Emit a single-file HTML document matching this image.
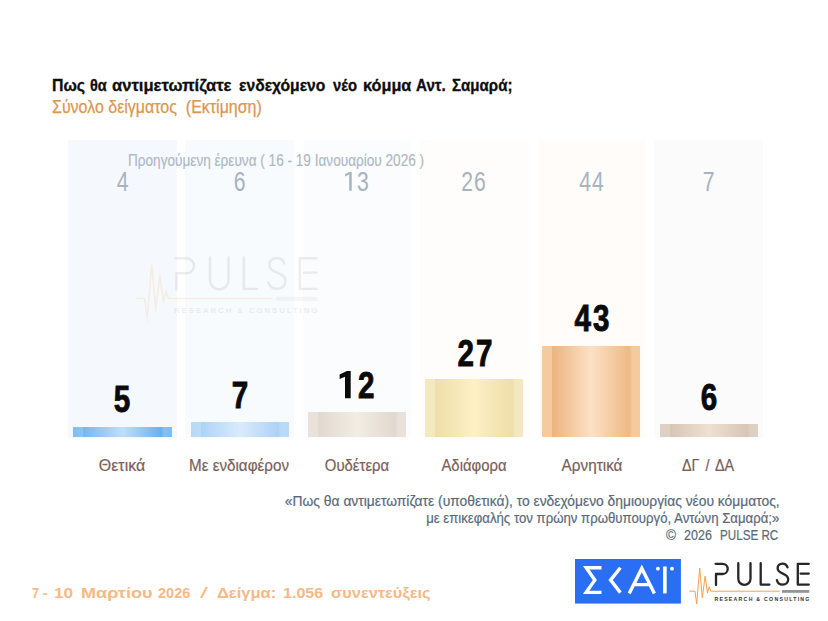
<!DOCTYPE html>
<html lang="el">
<head>
<meta charset="utf-8">
<title>Pulse</title>
<style>
html,body{margin:0;padding:0;background:#fff;}
body{width:828px;height:621px;position:relative;overflow:hidden;font-family:"Liberation Sans",sans-serif;}
.t{position:absolute;white-space:nowrap;line-height:1;transform-origin:0 0;}
.c{position:absolute;white-space:nowrap;line-height:1;text-align:center;transform-origin:50% 0;}
.r{position:absolute;white-space:nowrap;line-height:1;text-align:right;transform-origin:100% 0;}
.fn{color:#596978;-webkit-text-stroke:.2px #596978;}
.ti{top:76.5px;font-size:16.5px;font-weight:bold;color:#0d0d0d;-webkit-text-stroke:.3px #0d0d0d;}
.ft{top:585.3px;font-size:15px;font-weight:bold;color:#f6b985;}
.col{position:absolute;top:139.5px;height:298.2px;width:108.5px;}
.bar{position:absolute;width:98.4px;}
.val{font-weight:bold;font-size:37px;color:#0a0a0a;width:140px;transform:scaleX(.8);letter-spacing:2.7px;-webkit-text-stroke:.9px #0a0a0a;}
.h1{color:transparent;-webkit-text-stroke:0 transparent;}
.prev{font-size:27.2px;color:#a9b3be;width:140px;transform:scaleX(.78);letter-spacing:1.2px;}
.lab{font-size:16.5px;color:#7a5e59;-webkit-text-stroke:.2px #7a5e59;width:140px;transform:scaleX(.935);}
</style>
</head>
<body>
<!-- column backgrounds -->
<div class="col" style="left:68.0px;background:#f5f9fd"></div>
<div class="col" style="left:185.4px;background:#f8fbfe"></div>
<div class="col" style="left:302.8px;background:#fbfcfd"></div>
<div class="col" style="left:420.2px;background:#fefdfb"></div>
<div class="col" style="left:537.6px;background:#fffcf9"></div>
<div class="col" style="left:654.4px;background:#fcfbfb"></div>

<!-- bars -->
<div class="bar" style="left:73px;top:426.8px;width:99px;height:9.8px;background:linear-gradient(90deg,#82bdf0 0%,#8cc3f1 10%,#78b6ee 10.5%,#bfdffa 50%,#6cb0ec 89%,#86bff0 92%,#80bbef 100%)"></div>
<div class="bar" style="left:191px;top:422px;width:98.4px;height:14.6px;background:linear-gradient(90deg,#b9d9f7 0%,#bddbf8 10%,#aed3f6 10.5%,#d9ebfc 50%,#add2f6 89%,#bcdaf7 92%,#b9d9f7 100%)"></div>
<div class="bar" style="left:307.5px;top:411.9px;width:98.4px;height:24.7px;background:linear-gradient(90deg,#e8e2da 0%,#e8e2da 10%,#e1d9d0 10.5%,#f2ece2 50%,#e1d9d0 89%,#e8e2da 92%,#e8e2da 100%)"></div>
<div class="bar" style="left:425px;top:379.2px;width:98.4px;height:57.4px;background:linear-gradient(90deg,#f3e8be 0%,#f3e8be 10%,#eedeaa 10.5%,#fdf0c3 50%,#eedeaa 89%,#f3e8be 92%,#f3e8be 100%)"></div>
<div class="bar" style="left:542px;top:345.7px;width:98.3px;height:90.9px;background:linear-gradient(90deg,#f4ca9e 0%,#f4ca9e 10%,#ecb47f 10.5%,#fde0c6 50%,#eeba84 89%,#f4ca9e 92%,#f4ca9e 100%)"></div>
<div class="bar" style="left:659.5px;top:423.9px;width:98.6px;height:12.7px;background:linear-gradient(90deg,#ded0c3 0%,#ded0c3 10%,#d7c6b6 10.5%,#eee0d2 50%,#d7c6b6 89%,#ded0c3 92%,#ded0c3 100%)"></div>


<!-- logos -->
<svg style="position:absolute;left:0;top:0" width="828" height="621" viewBox="0 0 828 621">
<defs>
<g id="pwave" fill="none" stroke="#f5a04a" stroke-width="1" stroke-linejoin="miter" stroke-miterlimit="10">
<path d="M689.4,591.2 L695,591.2 L696.7,603.9 L699.7,568 L702.3,597.8 L705.1,576.1 L707.5,593 L709.2,586.6 L710.8,591.2 L779.8,591.2"/>
</g>
<g id="ptext">
<g fill="none" stroke="#262626" stroke-linecap="round" stroke-linejoin="round">
<path d="M715.6,563.8 H722.6 A5.1,5.1 0 0 1 722.6,574 H716 V585"/>
<path d="M738.3,563.2 V578.8 A6.1,6.1 0 0 0 750.5,578.8 V563.2"/>
<path d="M760.7,563.2 V584.6 H769.4"/>
<path d="M787.5,567.3 C786.7,565 784.9,563.6 782.4,563.6 C779.6,563.6 777.6,565.6 777.6,568.3 C777.6,574.6 788.2,572.6 788.2,579.2 C788.2,582.4 785.8,584.6 782.7,584.6 C779.8,584.6 777.6,582.9 776.9,580.2"/>
<path d="M808.8,563.8 H797.8 V584.6 H808.8 M800.6,573.6 H808.8"/>
</g>
<rect x="782" y="590" width="27.3" height="2.8" fill="#959595"/>
<text x="714.4" y="601.1" font-family="Liberation Sans, sans-serif" font-weight="bold" font-size="5.2" fill="#333" textLength="95" lengthAdjust="spacing">RESEARCH &amp; CONSULTING</text>
</g>
</defs>
<!-- watermark -->
<g transform="translate(-904.8,-570.5) scale(1.51,1.47)">
<use href="#pwave" opacity=".15"/>
<use href="#ptext" opacity=".08" stroke-width="1.6"/>
</g>
<!-- SKAI -->
<rect x="575" y="559" width="105.9" height="44.6" fill="#2a6ff3"/>
<g fill="none" stroke="#fff" stroke-width="3.4" stroke-linejoin="miter">
<path d="M601.5,567.7 H586.2 L594.8,580.1 L586.2,592.4 H601.5"/>
<path d="M620.4,567.8 L610.6,580.1 L620.4,592.6"/>
<path d="M629.2,593.6 L641.8,568.4 L654.4,593.6 M634,584.6 H649.6"/>
<path d="M664.9,566.5 V593.4" stroke-width="3.6"/>
</g>
<circle cx="657.9" cy="568.7" r="1.9" fill="#fff"/>
<circle cx="672" cy="568.7" r="1.9" fill="#fff"/>
<!-- PULSE -->
<use href="#pwave"/>
<use href="#ptext" stroke-width="2.3"/>
</svg>

<!-- title -->
<div class="t ti" style="left:52.0px;transform:scaleX(0.960)">Πως</div>
<div class="t ti" style="left:90.2px;transform:scaleX(.88)">θα</div>
<div class="t ti" style="left:112.2px;transform:scaleX(1.005)">αντιμετωπίζατε</div>
<div class="t ti" style="left:238.9px;transform:scaleX(0.949)">ενδεχόμενο</div>
<div class="t ti" style="left:333.0px;transform:scaleX(0.900)">νέο</div>
<div class="t ti" style="left:362.9px;transform:scaleX(0.985)">κόμμα</div>
<div class="t ti" style="left:415.5px;transform:scaleX(0.920)">Αντ.</div>
<div class="t ti" style="left:452.1px;transform:scaleX(0.914)">Σαμαρά;</div>
<div class="t" id="sub" style="left:52px;top:98.4px;font-size:18.3px;color:#db964f;-webkit-text-stroke:.25px #db964f;transform:scaleX(.874)">Σύνολο δείγματος&nbsp; (Εκτίμηση)</div>

<!-- previous -->
<div class="t" id="prevt" style="left:128.1px;top:152.5px;font-size:15.8px;color:#aeb8c4;-webkit-text-stroke:.15px #aeb8c4;transform:scaleX(.861)">Προηγούμενη έρευνα ( 16 - 19 Ιανουαρίου 2026 )</div>
<div class="c prev" style="left:53.4px;top:168.2px">4</div>
<div class="c prev" style="left:170.1px;top:168.2px">6</div>
<div class="c prev" style="left:287.4px;top:168.2px"><span class="h1">1</span>3</div>
<div class="c prev" style="left:404.4px;top:168.2px">26</div>
<div class="c prev" style="left:522.2px;top:168.2px">44</div>
<div class="c prev" style="left:639.4px;top:168.2px">7</div>

<!-- values -->
<div class="c val" style="left:53.4px;top:381.1px">5</div>
<div class="c val" style="left:170.8px;top:377px">7</div>
<div class="c val" style="left:288.2px;top:366.5px"><span class="h1">1</span>2</div>
<div class="c val" style="left:405.6px;top:334.6px">27</div>
<div class="c val" style="left:523.0px;top:300px">43</div>
<div class="c val" style="left:640.4px;top:379.2px">6</div>

<!-- custom "1" glyphs -->
<svg style="position:absolute;left:0;top:0" width="828" height="621" viewBox="0 0 828 621">
<path d="M350.7,370.9 L346.8,370.9 L339.6,374.6 L339.6,378.9 L345,376.7 L345,398.3 L350.7,398.3 Z" fill="#0a0a0a"/>
<path d="M351.7,172 L349.6,172 L345.1,174.1 L345.1,176.4 L349.2,174.6 L349.2,190.7 L351.7,190.7 Z" fill="#a9b3be"/>
</svg>
<!-- labels -->
<div class="c lab" style="left:52px;top:456.5px;transform:scaleX(.967)">Θετικά</div>
<div class="c lab" style="left:168.6px;top:456.5px;transform:scaleX(.922)">Με ενδιαφέρον</div>
<div class="c lab" style="left:286.7px;top:456.5px;transform:scaleX(.904)">Ουδέτερα</div>
<div class="c lab" style="left:404.1px;top:456.5px;transform:scaleX(.902)">Αδιάφορα</div>
<div class="c lab" style="left:521.6px;top:456.5px;transform:scaleX(.929)">Αρνητικά</div>
<div class="c lab" style="left:638.4px;top:456.5px;transform:scaleX(.87);word-spacing:2.5px">ΔΓ / ΔΑ</div>

<!-- footnote -->
<div class="r fn" id="fn1" style="right:48.4px;top:493.1px;font-size:15px;transform:scaleX(.922)">«Πως θα αντιμετωπίζατε (υποθετικά), το ενδεχόμενο δημιουργίας νέου κόμματος,</div>
<div class="r fn" id="fn2" style="right:49px;top:510.2px;font-size:15px;transform:scaleX(.88)">με επικεφαλής τον πρώην πρωθυπουργό, Αντώνη Σαμαρά;»</div>
<div class="t fn" id="fn3a" style="left:665.6px;top:526.5px;font-size:15px;transform:scaleX(.9)">©</div>
<div class="t fn" id="fn3b" style="left:684.2px;top:526.5px;font-size:15px;transform:scaleX(.835)">2026</div>
<div class="t fn" id="fn3c" style="left:720px;top:526.5px;font-size:15px;transform:scaleX(.776)">PULSE RC</div>

<!-- footer -->
<div class="t ft" style="left:31.7px;transform:scaleX(0.850)">7</div>
<div class="t ft" style="left:42.7px;transform:scaleX(1.000)">-</div>
<div class="t ft" style="left:53.7px;transform:scaleX(1.15)">10</div>
<div class="t ft" style="left:81.3px;transform:scaleX(1.205)">Μαρτίου</div>
<div class="t ft" style="left:158.2px;transform:scaleX(0.970)">2026</div>
<div class="t ft" style="left:200.1px;transform:scaleX(1.9);font-weight:normal">/</div>
<div class="t ft" style="left:217.3px;transform:scaleX(1.10)">Δείγμα:</div>
<div class="t ft" style="left:283.0px;transform:scaleX(1.070)">1.056</div>
<div class="t ft" style="left:331.1px;transform:scaleX(1.093)">συνεντεύξεις</div>

</body>
</html>
